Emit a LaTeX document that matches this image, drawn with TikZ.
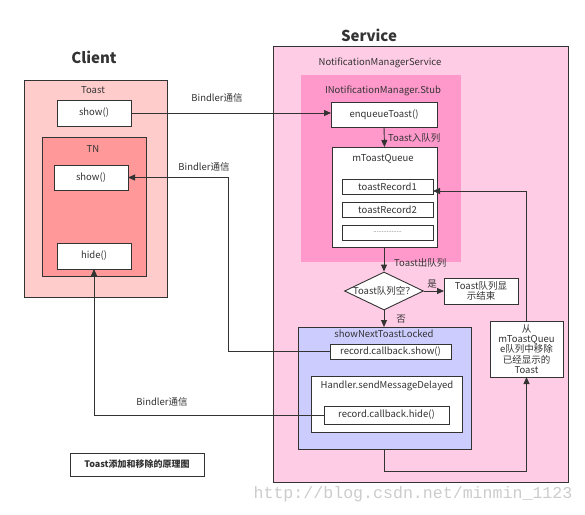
\documentclass[tikz,border=0pt]{standalone}
\usepackage{fontspec}
\setmainfont{Noto Sans CJK SC}
\newfontfamily\wmfont{Liberation Mono}
\usetikzlibrary{arrows.meta,shapes.geometric}
\definecolor{ink}{HTML}{333333}
\definecolor{clientbg}{HTML}{FFCCCC}
\definecolor{tnbg}{HTML}{FF9999}
\definecolor{servbg}{HTML}{FFCCE6}
\definecolor{stubbg}{HTML}{FF99CC}
\definecolor{sntbg}{HTML}{CCCCFF}
\tikzset{
  box/.style={draw=ink, line width=0.9pt, fill=white, rectangle, inner sep=0pt, outer sep=0pt, text=ink, font=\fontsize{9.5}{10.5}\selectfont, align=center},
  area/.style={draw=ink, line width=0.9pt, rectangle, inner sep=0pt, outer sep=0pt},
  lbl/.style={text=ink, font=\fontsize{9.5}{10.5}\selectfont, inner sep=0pt},
  ttl/.style={text=ink, font=\fontsize{15}{17}\selectfont\bfseries, inner sep=0pt},
  arr/.style={draw=ink, line width=0.9pt, -{Triangle[length=7pt,width=6pt]}},
  conn/.style={draw=ink, line width=0.9pt}
}
\begin{document}
\begin{tikzpicture}[x=1pt,y=-1pt]
\useasboundingbox (0,0) rectangle (585,514);
% titles
\node[ttl] (tclient) at (94,57) {Client};
\node[ttl] (tservice) at (369,35) {Service};
% client side
\node[area, fill=clientbg, minimum width=143pt, minimum height=217pt] (client) at (95.5,188.5) {};
\node[lbl] (ltoast) at (93,90) {Toast};
\node[box, minimum width=74pt, minimum height=26pt] (tshow) at (94,113) {show()};
\node[area, fill=tnbg, minimum width=104pt, minimum height=139pt] (tn) at (94,206.5) {};
\node[lbl] (ltn) at (93,149) {TN};
\node[box, minimum width=74pt, minimum height=25pt] (tnshow) at (91,177.5) {show()};
\node[box, minimum width=74pt, minimum height=26pt] (hide) at (94,256) {hide()};
\node[box, line width=1pt, minimum width=134pt, minimum height=23pt, font=\fontsize{9}{10.5}\selectfont\bfseries] (cap) at (137,464.5) {Toast添加和移除的原理图};
% service side
\node[area, fill=servbg, minimum width=295pt, minimum height=436pt] (service) at (420.5,264) {};
\node[lbl] (lnms) at (380,63) {NotificationManagerService};
\node[rectangle, fill=stubbg, inner sep=0pt, minimum width=160pt, minimum height=187pt] (stub) at (381,168.5) {};
\node[lbl] (lstub) at (383,91) {INotificationManager.Stub};
\node[box, minimum width=106pt, minimum height=25pt] (enq) at (384,114.5) {enqueueToast()};
\node[box, minimum width=105pt, minimum height=100pt] (queue) at (384.5,197) {};
\node[lbl] (lqueue) at (383,159) {mToastQueue};
\node[box, minimum width=91pt, minimum height=15pt] (rec1) at (387.5,186.5) {toastRecord1};
\node[box, minimum width=91pt, minimum height=15pt] (rec2) at (387.5,209.5) {toastRecord2};
\node[box, minimum width=91pt, minimum height=15pt, font=\fontsize{6}{7}\selectfont] (rec3) at (387.5,232.5) {.................};
\node[diamond, draw=ink, line width=0.9pt, fill=white, inner sep=0pt, minimum width=79pt, minimum height=38pt] (dia) at (384,291) {};
\node[lbl] (ldia) at (dia) {Toast队列空？};
\node[box, minimum width=74pt, minimum height=26pt] (endb) at (481,291) {Toast队列显\\示结束};
\node[area, fill=sntbg, minimum width=173pt, minimum height=122pt] (snt) at (384.5,388) {};
\node[lbl] (lsnt) at (384,334) {showNextToastLocked};
\node[box, minimum width=121pt, minimum height=15pt] (rshow) at (390.5,351.5) {record.callback.show()};
\node[area, fill=white, minimum width=151pt, minimum height=56pt] (handler) at (386.5,404) {};
\node[lbl] (lhandler) at (387,386) {Handler.sendMessageDelayed};
\node[box, minimum width=125pt, minimum height=18pt] (rhide) at (386.5,415) {record.callback.hide()};
\node[box, minimum width=73pt, minimum height=56pt, font=\fontsize{9.5}{10.4}\selectfont] (remove) at (526.5,349) {从\\mToastQueu\\e队列中移除\\已经显示的\\Toast};
% connectors
\draw[arr] (tshow.east) -- (tshow.east -| enq.west);
\node[lbl] (lb1) at (217,98) {Bindler通信};
\coordinate (bx2) at (228,0);
\draw[arr] (rshow.west) -| (bx2 |- tnshow.east) -- (tnshow.east);
\node[lbl] (lb2) at (204,167) {Bindler通信};
\draw[arr] (rhide.west) -| (hide.south);
\node[lbl] (lb3) at (162,402) {Bindler通信};
\draw[arr] (enq.south) -- (queue.north);
\node[lbl, anchor=west] (lin) at (388,138) {Toast入队列};
\draw[arr] (queue.south -| dia.north) -- (dia.north);
\node[lbl, anchor=west] (lout) at (394,263) {Toast出队列};
\draw[arr] (dia.east) -- (endb.west);
\node[lbl] (lyes) at (432,284) {是};
\draw[arr] (dia.south) -- (snt.north -| dia.south);
\node[lbl] (lno) at (401,319) {否};
\coordinate (lowy) at (0,471);
\draw[arr] (snt.south) -- (snt.south |- lowy) -| (remove.south);
\coordinate (recy) at (0,191);
\draw[arr] (remove.north) -- (remove.north |- recy) -- (recy -| rec1.east);
% watermark
\node[inner sep=0pt, text=black!20, font=\wmfont\fontsize{16.6}{18}\selectfont] (wm) at (413,494) {http://blog.csdn.net/minmin\_1123};
\end{tikzpicture}
\end{document}
